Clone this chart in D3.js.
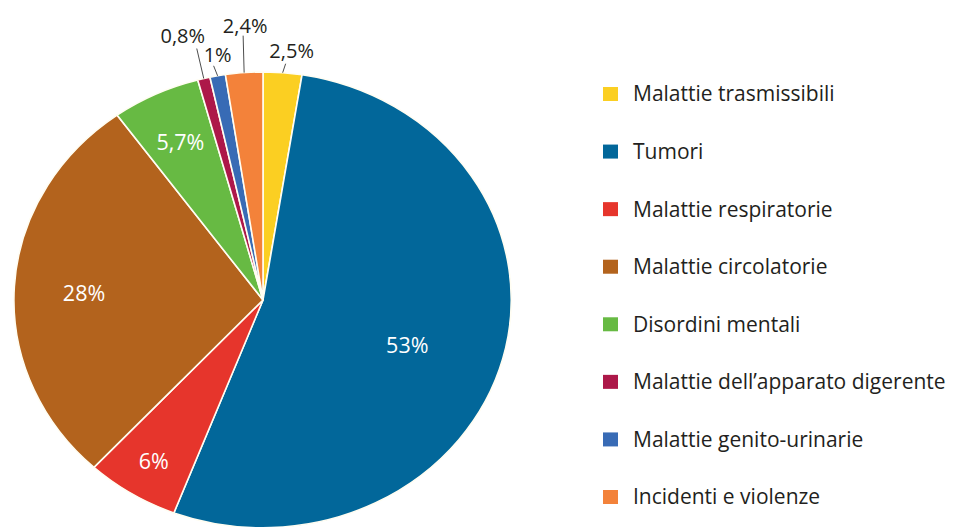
<!DOCTYPE html>
<html>
<head>
<meta charset="utf-8">
<script src="https://cdn.jsdelivr.net/npm/d3@7"></script>
<style>
  html, body { margin: 0; padding: 0; background: #fff; }
  svg { display: block; font-family: "Open Sans", "Noto Sans", sans-serif; }
  .legend-text { fill: #231f20; font-size: 21px; }
  .out-label { fill: #231f20; font-size: 20px; }
  .in-label { fill: #fff; font-size: 21.5px; }
</style>
</head>
<body>
<div id="chart"></div>
<script>
// Data
const categories = [
  'Malattie trasmissibili',
  'Tumori',
  'Malattie respiratorie',
  'Malattie circolatorie',
  'Disordini mentali',
  'Malattie dell\u2019apparato digerente',
  'Malattie genito-urinarie',
  'Incidenti e violenze'
];
const values = [2.5, 53, 6, 28, 5.7, 0.8, 1, 2.4];
const valueLabels = ['2,5%', '53%', '6%', '28%', '5,7%', '0,8%', '1%', '2,4%'];
const colors = ['#fbcf22', '#02679a', '#e6352c', '#b3631d', '#67ba43', '#ad1849', '#386bb5', '#f3823a'];

// Layout
const width = 957, height = 527;
const cx = 263, cy = 300, rx = 249, ry = 228;

// label placement: inside -> radius factor (+ nudge), outside -> leader shape
const labelPlace = [
  { out: true, lead: [3, -9], text: [6, -6] },
  { out: false, r: 0.6, dy: 9 },
  { out: false, r: 0.83, dy: 0 },
  { out: false, r: 0.72, dy: 2 },
  { out: false, r: 0.77, dy: 0 },
  { out: true, lead: [-7, -30], text: [-14, -6] },
  { out: true, lead: [-4, -10], text: [4, -4] },
  { out: true, lead: [-1, -37], text: [2, -3] }
];

const data = categories.map((c, i) => ({ name: c, value: values[i], label: valueLabels[i], color: colors[i], place: labelPlace[i] }));

const svg = d3.select('#chart').append('svg')
  .attr('width', width)
  .attr('height', height);

const pie = d3.pie().sort(null).value(d => d.value);
const arcs = pie(data);

// unit-radius arc, stretched into the ellipse
const arc = d3.arc().innerRadius(0).outerRadius(1);

const pieG = svg.append('g')
  .attr('transform', `translate(${cx},${cy}) scale(${rx},${ry})`);

pieG.selectAll('path')
  .data(arcs)
  .enter().append('path')
  .attr('d', arc)
  .attr('fill', d => d.data.color)
  .attr('stroke', '#fffdf2')
  .attr('stroke-width', 1.6)
  .attr('vector-effect', 'non-scaling-stroke');

const midAngle = d => (d.startAngle + d.endAngle) / 2;
const ellPoint = (a, f) => [cx + rx * f * Math.sin(a), cy - ry * f * Math.cos(a)];

// --- Inside labels ---
svg.selectAll('.in-label')
  .data(arcs.filter(d => !d.data.place.out))
  .enter().append('text')
  .attr('class', 'in-label')
  .attr('text-anchor', 'middle')
  .attr('dominant-baseline', 'central')
  .attr('x', d => ellPoint(midAngle(d), d.data.place.r)[0])
  .attr('y', d => ellPoint(midAngle(d), d.data.place.r)[1] + d.data.place.dy)
  .text(d => d.data.label);

// --- Outside labels with leader lines ---
const outs = arcs.filter(d => d.data.place.out);

svg.selectAll('.leader')
  .data(outs)
  .enter().append('line')
  .attr('class', 'leader')
  .attr('x1', d => ellPoint(midAngle(d), 1)[0])
  .attr('y1', d => ellPoint(midAngle(d), 1)[1])
  .attr('x2', d => ellPoint(midAngle(d), 1)[0] + d.data.place.lead[0])
  .attr('y2', d => ellPoint(midAngle(d), 1)[1] + d.data.place.lead[1])
  .attr('stroke', '#4d4d4d')
  .attr('stroke-width', 1);

svg.selectAll('.out-label')
  .data(outs)
  .enter().append('text')
  .attr('class', 'out-label')
  .attr('text-anchor', 'middle')
  .attr('x', d => ellPoint(midAngle(d), 1)[0] + d.data.place.lead[0] + d.data.place.text[0])
  .attr('y', d => ellPoint(midAngle(d), 1)[1] + d.data.place.lead[1] + d.data.place.text[1])
  .text(d => d.data.label);

// --- Legend ---
const legendY = d3.scalePoint()
  .domain(categories)
  .range([94, 497]);

const legend = svg.append('g').attr('class', 'legend');

const item = legend.selectAll('g')
  .data(data)
  .enter().append('g')
  .attr('transform', d => `translate(603,${legendY(d.name)})`);

item.append('rect')
  .attr('x', 0)
  .attr('y', -7)
  .attr('width', 15)
  .attr('height', 14)
  .attr('fill', d => d.color);

item.append('text')
  .attr('class', 'legend-text')
  .attr('x', 30)
  .attr('dy', '0.35em')
  .text(d => d.name);
</script>
</body>
</html>
